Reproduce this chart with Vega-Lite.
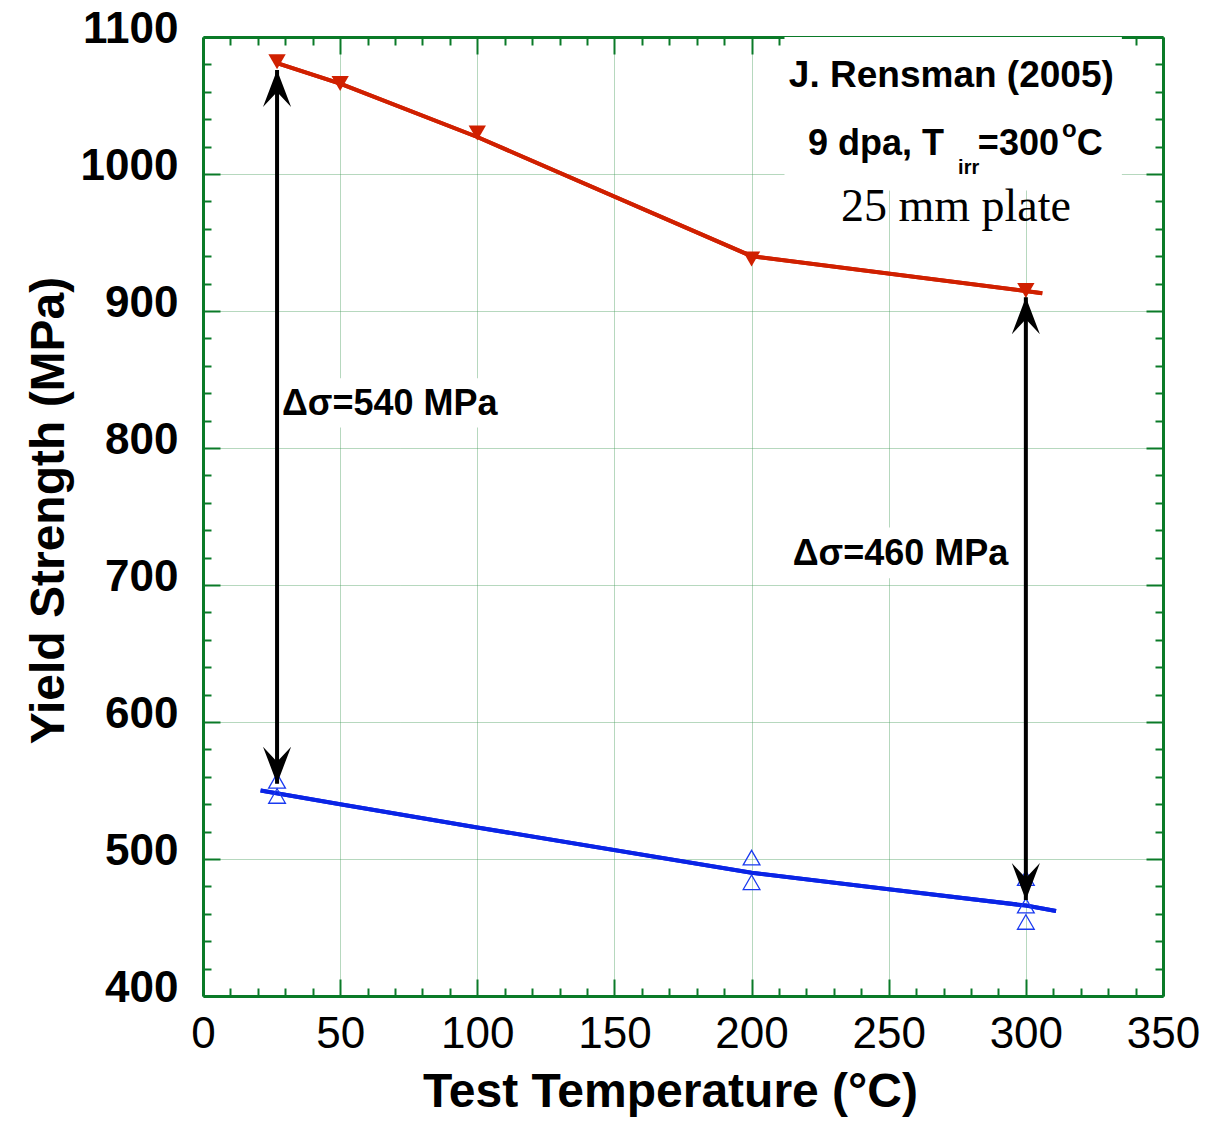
{
  "$schema": "https://vega.github.io/schema/vega-lite/v6.json",
  "width": 960,
  "height": 959,
  "autosize": {"type": "none"},
  "padding": {"left": 203, "top": 37, "right": 44, "bottom": 134},
  "background": "white",
  "config": {
    "view": {"stroke": null},
    "font": "Liberation Sans",
    "axis": {
      "domainColor": "#0a7a28",
      "domainWidth": 3,
      "tickColor": "#0a7a28",
      "tickWidth": 2,
      "labelFont": "Liberation Sans",
      "labelColor": "black",
      "labelFlush": false,
      "labelOverlap": false,
      "labelBound": false,
      "gridColor": "#4a9e5c",
      "gridDash": [1, 1],
      "gridWidth": 1,
      "titleColor": "black",
      "titleFont": "Liberation Sans"
    }
  },
  "datasets": {
    "irr": [
      {"x": 27, "y": 1082}, {"x": 50, "y": 1066}, {"x": 100, "y": 1030}, {"x": 200, "y": 938}, {"x": 300, "y": 915}
    ],
    "irrFit": [
      {"x": 27, "y": 1081}, {"x": 50, "y": 1066}, {"x": 100, "y": 1027}, {"x": 200, "y": 940}, {"x": 306, "y": 913}
    ],
    "unirr": [
      {"x": 27, "y": 557}, {"x": 27, "y": 546}, {"x": 200, "y": 501}, {"x": 200, "y": 483},
      {"x": 300, "y": 486}, {"x": 300, "y": 466}, {"x": 300, "y": 454}
    ],
    "unirrFit": [
      {"x": 21, "y": 550}, {"x": 50, "y": 540}, {"x": 100, "y": 523}, {"x": 200, "y": 490},
      {"x": 250, "y": 478}, {"x": 300, "y": 466}, {"x": 311, "y": 462}
    ],
    "arrows": [
      {"x": 27, "y": 1076, "y2": 555},
      {"x": 300, "y": 910, "y2": 470}
    ],
    "boxes": [
      {"x": 212, "x2": 335, "y": 1100, "y2": 988},
      {"x": 28, "x2": 109, "y": 851, "y2": 815},
      {"x": 213, "x2": 296, "y": 742, "y2": 705}
    ],
    "title37": [
      {"x": 213.6, "y": 1063.5, "label": "J. Rensman (2005)"}
    ],
    "bold36": [
      {"x": 220.6, "y": 1014, "label": "9 dpa, T"},
      {"x": 282.5, "y": 1014, "label": "=300"},
      {"x": 318.6, "y": 1014, "label": "C"},
      {"x": 28.8, "y": 824, "label": "Δσ=540 MPa"},
      {"x": 215, "y": 714.6, "label": "Δσ=460 MPa"}
    ],
    "sub": [{"x": 275.3, "y": 1000, "label": "irr"}],
    "sup": [{"x": 313.2, "y": 1027, "label": "o"}],
    "serif": [{"x": 274.5, "y": 966, "label": "25 mm plate"}]
  },
  "resolve": {"axis": {"x": "independent", "y": "independent"}},
  "layer": [
    {
      "data": {"name": "irrFit"},
      "mark": {"type": "line", "color": "#d02000", "strokeWidth": 4},
      "encoding": {
        "x": {
          "field": "x", "type": "quantitative",
          "scale": {"domain": [0, 350], "nice": false, "zero": false},
          "axis": {
            "orient": "bottom",
            "values": [0,10,20,30,40,50,60,70,80,90,100,110,120,130,140,150,160,170,180,190,200,210,220,230,240,250,260,270,280,290,300,310,320,330,340,350],
            "format": "d",
            "labelExpr": "datum.value % 50 === 0 ? datum.label : ''",
            "labelFontSize": 44,
            "labelFontWeight": "normal",
            "labelPadding": 33,
            "tickSize": {"condition": {"test": "datum.value % 50 === 0", "value": -17}, "value": -8},
            "grid": true,
            "gridOpacity": {"condition": {"test": "datum.value % 50 === 0 && datum.value > 0 && datum.value < 350", "value": 0.8}, "value": 0},
            "title": "Test Temperature (°C)",
            "titleFontSize": 48,
            "titleFontWeight": "bold",
            "titleX": 467,
            "titleY": 110,
            "titleBaseline": "alphabetic"
          }
        },
        "y": {
          "field": "y", "type": "quantitative",
          "scale": {"domain": [400, 1100], "nice": false, "zero": false},
          "axis": {
            "orient": "left",
            "values": [400,420,440,460,480,500,520,540,560,580,600,620,640,660,680,700,720,740,760,780,800,820,840,860,880,900,920,940,960,980,1000,1020,1040,1060,1080,1100],
            "format": "d",
            "labelExpr": "datum.value % 100 === 0 ? datum.label : ''",
            "labelFontSize": 44,
            "labelFontWeight": "bold",
            "labelPadding": 42,
            "labelOffset": -8,
            "tickSize": {"condition": {"test": "datum.value % 100 === 0", "value": -17}, "value": -8},
            "grid": true,
            "gridOpacity": {"condition": {"test": "datum.value % 100 === 0 && datum.value > 400 && datum.value < 1100", "value": 0.8}, "value": 0},
            "title": "Yield Strength (MPa)",
            "titleFontSize": 48,
            "titleFontWeight": "bold",
            "titleX": -140,
            "titleY": 473,
            "titleBaseline": "alphabetic"
          }
        }
      }
    },
    {
      "data": {"name": "unirrFit"},
      "mark": {"type": "line", "color": "#0a24e6", "strokeWidth": 4},
      "encoding": {
        "x": {
          "field": "x", "type": "quantitative",
          "scale": {"domain": [0, 350], "nice": false, "zero": false},
          "axis": {
            "orient": "top",
            "values": [0,10,20,30,40,50,60,70,80,90,100,110,120,130,140,150,160,170,180,190,200,210,220,230,240,250,260,270,280,290,300,310,320,330,340,350],
            "labels": false,
            "grid": false,
            "title": null,
            "tickSize": {"condition": {"test": "datum.value % 50 === 0", "value": -17}, "value": -8}
          }
        },
        "y": {
          "field": "y", "type": "quantitative",
          "scale": {"domain": [400, 1100], "nice": false, "zero": false},
          "axis": {
            "orient": "right",
            "values": [400,420,440,460,480,500,520,540,560,580,600,620,640,660,680,700,720,740,760,780,800,820,840,860,880,900,920,940,960,980,1000,1020,1040,1060,1080,1100],
            "labels": false,
            "grid": false,
            "title": null,
            "tickSize": {"condition": {"test": "datum.value % 100 === 0", "value": -17}, "value": -8}
          }
        }
      }
    },
    {
      "data": {"name": "boxes"},
      "mark": {"type": "rect", "color": "white"},
      "encoding": {
        "x": {"field": "x", "type": "quantitative", "axis": null},
        "x2": {"field": "x2"},
        "y": {"field": "y", "type": "quantitative", "axis": null},
        "y2": {"field": "y2"}
      }
    },
    {
      "data": {"name": "irrFit"},
      "mark": {"type": "line", "color": "#d02000", "strokeWidth": 4},
      "encoding": {
        "x": {"field": "x", "type": "quantitative", "axis": null},
        "y": {"field": "y", "type": "quantitative", "axis": null}
      }
    },
    {
      "data": {"name": "unirrFit"},
      "mark": {"type": "line", "color": "#0a24e6", "strokeWidth": 4},
      "encoding": {
        "x": {"field": "x", "type": "quantitative", "axis": null},
        "y": {"field": "y", "type": "quantitative", "axis": null}
      }
    },
    {
      "data": {"name": "irr"},
      "mark": {"type": "point", "shape": "triangle-down", "filled": true, "size": 300, "color": "#d02000", "opacity": 1},
      "encoding": {
        "x": {"field": "x", "type": "quantitative", "axis": null},
        "y": {"field": "y", "type": "quantitative", "axis": null}
      }
    },
    {
      "data": {"name": "unirr"},
      "mark": {"type": "point", "shape": "triangle-up", "filled": false, "size": 280, "color": "#1a3af0", "strokeWidth": 1.3, "opacity": 1},
      "encoding": {
        "x": {"field": "x", "type": "quantitative", "axis": null},
        "y": {"field": "y", "type": "quantitative", "axis": null}
      }
    },
    {
      "data": {"name": "arrows"},
      "mark": {"type": "rule", "color": "black", "strokeWidth": 4},
      "encoding": {
        "x": {"field": "x", "type": "quantitative", "axis": null},
        "y": {"field": "y", "type": "quantitative", "axis": null},
        "y2": {"field": "y2"}
      }
    },
    {
      "data": {"name": "arrows"},
      "mark": {"type": "point", "shape": "M0,0L0.76,2L0,1.19L-0.76,2Z", "filled": true, "size": 1369, "color": "black", "opacity": 1},
      "encoding": {
        "x": {"field": "x", "type": "quantitative", "axis": null},
        "y": {"field": "y", "type": "quantitative", "axis": null}
      }
    },
    {
      "data": {"name": "arrows"},
      "mark": {"type": "point", "shape": "M0,0L0.76,-2L0,-1.19L-0.76,-2Z", "filled": true, "size": 1369, "color": "black", "opacity": 1},
      "encoding": {
        "x": {"field": "x", "type": "quantitative", "axis": null},
        "y": {"field": "y2", "type": "quantitative", "axis": null}
      }
    },
    {
      "data": {"name": "title37"},
      "mark": {"type": "text", "font": "Liberation Sans", "fontWeight": "bold", "fontSize": 37, "align": "left", "baseline": "alphabetic", "color": "black"},
      "encoding": {
        "x": {"field": "x", "type": "quantitative", "axis": null},
        "y": {"field": "y", "type": "quantitative", "axis": null},
        "text": {"field": "label"}
      }
    },
    {
      "data": {"name": "bold36"},
      "mark": {"type": "text", "font": "Liberation Sans", "fontWeight": "bold", "fontSize": 36, "align": "left", "baseline": "alphabetic", "color": "black"},
      "encoding": {
        "x": {"field": "x", "type": "quantitative", "axis": null},
        "y": {"field": "y", "type": "quantitative", "axis": null},
        "text": {"field": "label"}
      }
    },
    {
      "data": {"name": "sub"},
      "mark": {"type": "text", "font": "Liberation Sans", "fontWeight": "bold", "fontSize": 20, "align": "left", "baseline": "alphabetic", "color": "black"},
      "encoding": {
        "x": {"field": "x", "type": "quantitative", "axis": null},
        "y": {"field": "y", "type": "quantitative", "axis": null},
        "text": {"field": "label"}
      }
    },
    {
      "data": {"name": "sup"},
      "mark": {"type": "text", "font": "Liberation Sans", "fontWeight": "bold", "fontSize": 24, "align": "left", "baseline": "alphabetic", "color": "black"},
      "encoding": {
        "x": {"field": "x", "type": "quantitative", "axis": null},
        "y": {"field": "y", "type": "quantitative", "axis": null},
        "text": {"field": "label"}
      }
    },
    {
      "data": {"name": "serif"},
      "mark": {"type": "text", "font": "Liberation Serif", "fontWeight": "normal", "fontSize": 46, "align": "center", "baseline": "alphabetic", "color": "black"},
      "encoding": {
        "x": {"field": "x", "type": "quantitative", "axis": null},
        "y": {"field": "y", "type": "quantitative", "axis": null},
        "text": {"field": "label"}
      }
    }
  ]
}
